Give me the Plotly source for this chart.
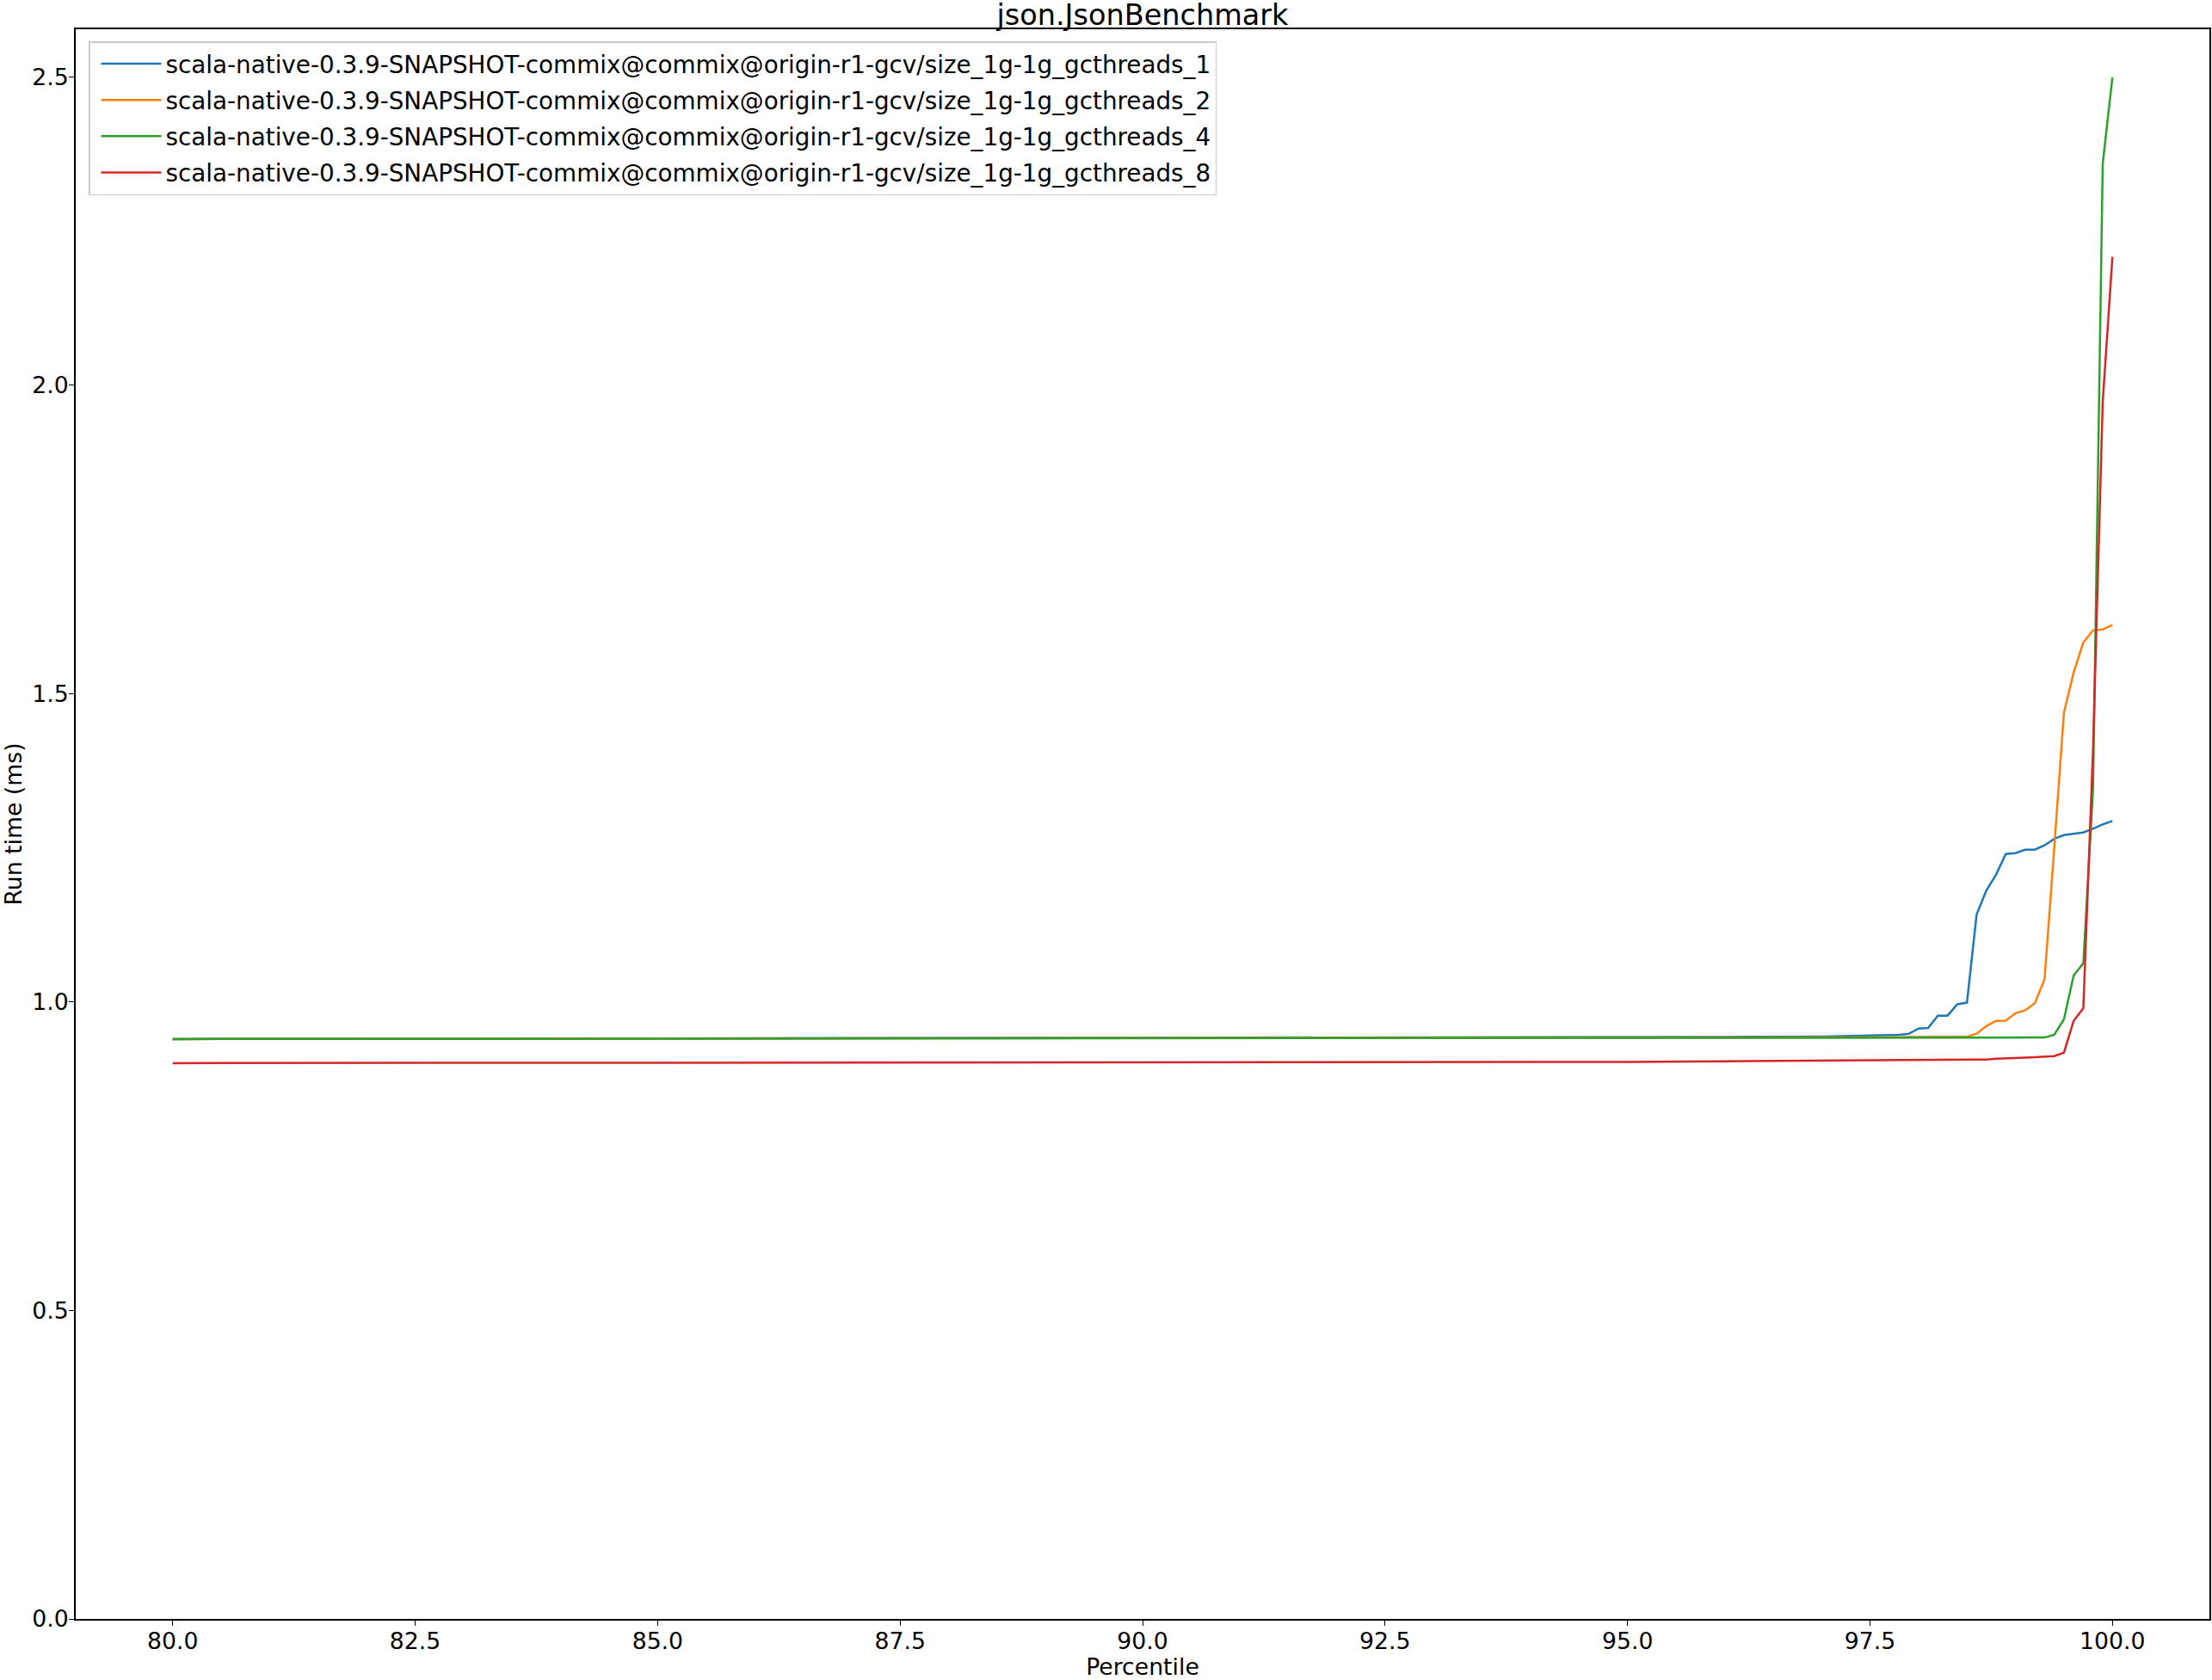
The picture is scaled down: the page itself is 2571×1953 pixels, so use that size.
import plotly.graph_objects as go

percentile = [80.0, 82.5, 85.0, 87.5, 90.0, 92.5, 95.0, 96.0, 97.0,
              97.5, 97.6, 97.7, 97.8, 97.9, 98.0, 98.1, 98.2, 98.3, 98.4,
              98.5, 98.6, 98.7, 98.8, 98.9, 99.0, 99.1, 99.2, 99.3, 99.4,
              99.5, 99.6, 99.7, 99.8, 99.9, 100.0]

gc1 = [0.940, 0.9405, 0.941, 0.9413, 0.9416, 0.942, 0.9428, 0.9434, 0.944,
       0.9455, 0.946, 0.9465, 0.947, 0.9486, 0.957, 0.958, 0.978, 0.978, 0.9965,
       0.999, 1.142, 1.181, 1.2065, 1.240, 1.2414, 1.247, 1.247, 1.254, 1.2646,
       1.2707, 1.273, 1.275, 1.281, 1.288, 1.2935]

gc2 = [0.940, 0.9403, 0.9406, 0.9409, 0.9412, 0.9415, 0.9419, 0.9422, 0.9426,
       0.943, 0.943, 0.943, 0.9431, 0.9432, 0.9433, 0.9433, 0.9434, 0.9434, 0.9435,
       0.9436, 0.9486, 0.961, 0.9695, 0.970, 0.982, 0.9867, 0.998, 1.037, 1.25,
       1.469, 1.534, 1.583, 1.6025, 1.604, 1.611]

gc4 = [0.940, 0.9402, 0.9404, 0.9406, 0.9408, 0.941, 0.9412, 0.9413, 0.9414,
       0.9415, 0.9415, 0.9416, 0.9416, 0.9417, 0.9418, 0.9418, 0.9419, 0.942, 0.942,
       0.942, 0.9421, 0.9422, 0.9422, 0.9423, 0.9423, 0.9424, 0.9424, 0.9425, 0.947,
       0.972, 1.043, 1.063, 1.345, 2.359, 2.499]

gc8 = [0.901, 0.9013, 0.9016, 0.902, 0.9023, 0.9027, 0.9031, 0.9040, 0.9052,
       0.9055, 0.9056, 0.9057, 0.9058, 0.9059, 0.906, 0.906, 0.9061, 0.9062, 0.9063,
       0.9064, 0.9065, 0.9068, 0.908, 0.909, 0.9095, 0.910, 0.9105, 0.911, 0.9123,
       0.918, 0.9695, 0.990, 1.41, 1.973, 2.208]

names = [
    "scala-native-0.3.9-SNAPSHOT-commix@commix@origin-r1-gcv/size_1g-1g_gcthreads_1",
    "scala-native-0.3.9-SNAPSHOT-commix@commix@origin-r1-gcv/size_1g-1g_gcthreads_2",
    "scala-native-0.3.9-SNAPSHOT-commix@commix@origin-r1-gcv/size_1g-1g_gcthreads_4",
    "scala-native-0.3.9-SNAPSHOT-commix@commix@origin-r1-gcv/size_1g-1g_gcthreads_8",
]
colors = ["#1f77b4", "#ff7f0e", "#2ca02c", "#d62728"]
series = [gc1, gc2, gc4, gc8]

FONT = "DejaVu Sans"
FS = 26.7

fig = go.Figure()
for i, (nm, ys, c) in enumerate(zip(names, series, colors)):
    fig.add_trace(go.Scatter(x=percentile, y=ys, mode="lines", name=nm,
                             legendgroup=f"g{i}",
                             line=dict(color=c, width=2.5)))

W, H = 2571, 1953
ML, MR, MT, MB = 88, 3, 34, 71

axis_common = dict(showline=True, mirror=True, linecolor="black", linewidth=1.7,
                   showgrid=False, zeroline=False, ticks="outside", ticklen=6,
                   tickwidth=1.4, tickcolor="black", ticklabelstandoff=-5,
                   tickfont=dict(family=FONT, size=FS, color="black"))

fig.update_layout(
    width=W, height=H,
    margin=dict(l=ML, r=MR, t=MT, b=MB, autoexpand=False),
    paper_bgcolor="white", plot_bgcolor="white",
    font=dict(family=FONT, size=FS, color="black"),
    title=dict(text="json.JsonBenchmark", x=(ML + (W - ML - MR) / 2) / W, xanchor="center",
               y=1 - 17 / H, yanchor="middle", yref="container",
               font=dict(family=FONT, size=33.5, color="black")),
    xaxis=dict(range=[79, 101], dtick=2.5, tick0=80, tickformat=".1f",
               title=dict(text="Percentile", standoff=8,
                          font=dict(family=FONT, size=FS, color="black")),
               **axis_common),
    yaxis=dict(range=[0, 2.577], dtick=0.5, tick0=0, tickformat=".1f",
               title=dict(text="Run time (ms)", standoff=10,
                          font=dict(family=FONT, size=FS, color="black")),
               **axis_common),
    legend=dict(x=(103 - ML) / (W - ML - MR), y=(H - MB - 48) / (H - MT - MB),
                xanchor="left", yanchor="top",
                bgcolor="rgba(255,255,255,0.8)", bordercolor="#cccccc", borderwidth=1.5,
                font=dict(family=FONT, size=27.8, color="black"),
                itemwidth=70, indentation=8,
                tracegroupgap=3, traceorder="grouped"),
    showlegend=True,
)

fig.write_html("out.html", config={"displayModeBar": False},
               post_script="document.body.style.margin='0';")
